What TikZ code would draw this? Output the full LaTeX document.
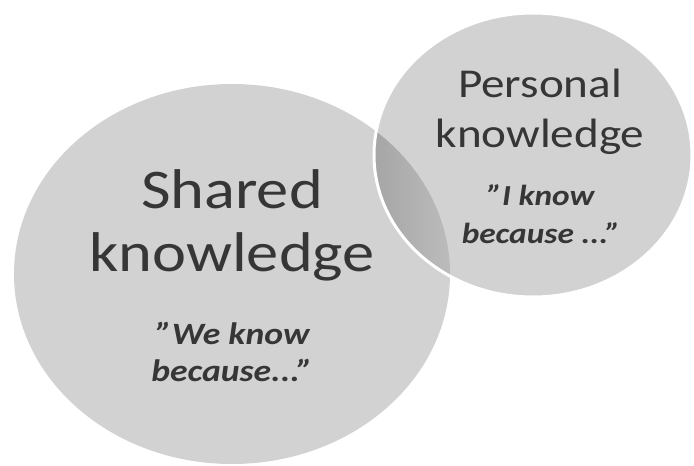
\documentclass[tikz,border=0pt]{standalone}
\usepackage{fontspec}
\setmainfont{Carlito}
\newcommand{\dq}{\char"22\relax}
\begin{document}
\begin{tikzpicture}[x=1pt,y=1pt,
  disc/.style={fill=discgray},
  heading/.style={anchor=base,text=inkgray,inner sep=0pt,xscale=1.15,transform shape},
  quote/.style={anchor=base,text=inkgray,inner sep=0pt,xscale=1.15,transform shape}]
\definecolor{discgray}{HTML}{D2D2D2}
\definecolor{lensgray}{HTML}{B4B4B4}
\definecolor{inkgray}{HTML}{363636}
\useasboundingbox (0,0) rectangle (694,-466);
% the two knowledge circles
\fill[disc] (232,-274) ellipse [x radius=218, y radius=190];
\fill[disc] (533,-155) ellipse [x radius=159, y radius=142];
% darker overlap of the two circles
\begin{scope}
  \clip (533,-155) ellipse [x radius=159, y radius=142];
  \clip (232,-274) ellipse [x radius=218, y radius=190];
  \shade[left color=lensgray!92!black, right color=lensgray!70!discgray]
    (374,-13) rectangle (455,-300);
\end{scope}
\draw[white,line width=3] (533,-155) ellipse [x radius=159, y radius=142];
% texts of the large circle
\node[heading,font=\fontsize{56}{63}\selectfont] (sh1) at (232,-208) {Shared};
\node[heading,font=\fontsize{56}{63}\selectfont] (sh2) at (232,-271) {knowledge};
\node[quote,font=\bfseries\itshape\fontsize{31}{37}\selectfont] (sq1) at (233,-344) {\dq We know};
\node[quote,font=\bfseries\itshape\fontsize{31}{37}\selectfont] (sq2) at (232,-381) {because...\dq};
% texts of the small circle
\node[heading,font=\fontsize{41}{50}\selectfont] (pe1) at (540,-97) {Personal};
\node[heading,font=\fontsize{41}{50}\selectfont] (pe2) at (540,-147) {knowledge};
\node[quote,font=\bfseries\itshape\fontsize{29}{38}\selectfont] (pq1) at (541,-205) {\dq I know};
\node[quote,font=\bfseries\itshape\fontsize{29}{38}\selectfont] (pq2) at (541,-243) {because ...\dq};
\end{tikzpicture}
\end{document}
